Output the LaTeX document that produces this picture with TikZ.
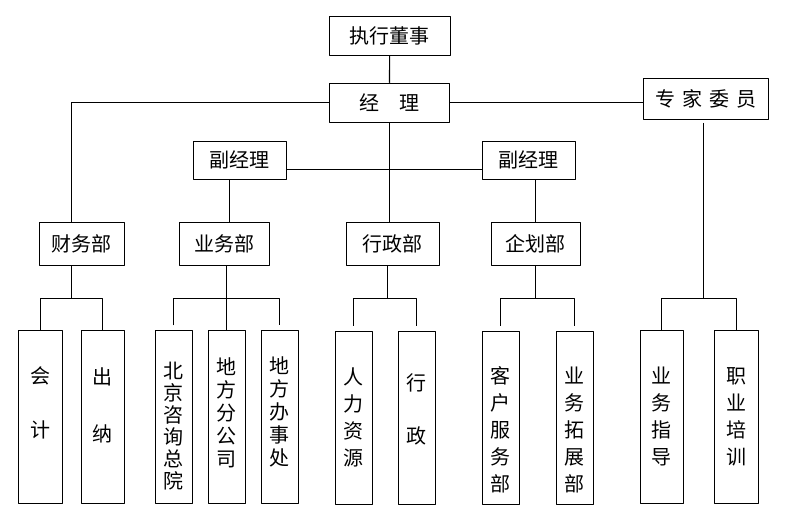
\documentclass[tikz,border=0pt]{standalone}
\usepackage{fontspec}
\setmainfont{Noto Sans CJK SC}
\begin{document}
\begin{tikzpicture}[x=1pt,y=-1pt,line width=1.1pt,line join=round,
	font=\fontsize{20}{27}\selectfont,
	box/.style={draw,inner sep=0pt,minimum height=39pt},
	dept/.style={draw,inner sep=0pt,minimum height=43pt},
	col/.style={draw,inner sep=0pt,minimum height=173pt},
	vt/.style={align=center,inner sep=0pt}]
	\useasboundingbox (0,0) rectangle (801,527);
	\def \bus{298.3}
	%Cấp trên
	\node[box,minimum width=121pt] (dsz) at (389.8,35.7) {执行董事};
	\node[box,minimum width=120pt] (jl) at (389.3,102.8) {经\quad 理};
	\node[box,minimum width=125pt,minimum height=41pt] (zj) at (705.8,98.7)
		{专\hspace{7pt}家\hspace{7pt}委\hspace{7pt}员};
	\node[box,minimum width=93pt,minimum height=38pt] (fjla) at (239.8,160.3) {副经理};
	\node[box,minimum width=93pt,minimum height=38pt] (fjlb) at (528.8,160.3) {副经理};
	%Các phòng
	\node[dept,minimum width=85pt] (cwb) at (81.8,243.8) {财务部};
	\node[dept,minimum width=90pt] (ywb) at (224.3,243.8) {业务部};
	\node[dept,minimum width=93pt] (xzb) at (392.8,243.8) {行政部};
	\node[dept,minimum width=89pt] (qhb) at (535.8,243.8) {企划部};
	%Các bộ phận
	\node[col,minimum width=44pt,label={[vt,yshift=14pt]center:会\\[27pt]计}] (kj) at (40.3,417) {};
	\node[col,minimum width=43pt,label={[vt,yshift=12pt]center:出\\[30pt]纳}] (cn) at (102.8,417) {};
	\node[col,minimum width=37pt,label={[vt,yshift=-8.5pt,font=\fontsize{20}{22}\selectfont]center:北\\京\\咨\\询\\总\\院}] (bj) at (173.8,417.3) {};
	\node[col,minimum width=37pt,label={[vt,yshift=4pt,font=\fontsize{20}{23}\selectfont]center:地\\方\\分\\公\\司}] (dfg) at (226.8,417.3) {};
	\node[col,minimum width=37pt,label={[vt,yshift=5pt,font=\fontsize{20}{23}\selectfont]center:地\\方\\办\\事\\处}] (bsc) at (279.8,417.3) {};
	\node[col,minimum width=37pt,label={[vt]center:人\\力\\资\\源}] (rl) at (353.8,417.8) {};
	\node[col,minimum width=37pt,label={[vt,yshift=8pt]center:行\\[26pt]政}] (xz) at (416.8,417.8) {};
	\node[col,minimum width=37pt,label={[vt,yshift=-12pt]center:客\\户\\服\\务\\部}] (kh) at (500.8,417.8) {};
	\node[col,minimum width=37pt,label={[vt,yshift=-12.5pt]center:业\\务\\拓\\展\\部}] (tz) at (574.8,417.8) {};
	\node[col,minimum width=43pt,label={[vt]center:业\\务\\指\\导}] (zd) at (661.8,416.8) {};
	\node[col,minimum width=44pt,label={[vt]center:职\\业\\培\\训}] (px) at (736.3,416.8) {};
	%Nối
	\draw (dsz) -- (jl);
	\draw (jl.west) -| ([xshift=-10pt]cwb.north);
	\draw (jl.east) -- (jl.east -| zj.west);
	\draw (jl.south) -- (jl.south |- xzb.north);
	\draw ([yshift=-9pt]fjla.east) -- ([yshift=-9pt]fjla.east -| fjlb.west);
	\draw ([xshift=-10pt]fjla.south) -- ([xshift=-10pt]fjla.south |- ywb.north);
	\draw (qhb.north |- fjlb.south) -- (qhb.north);
	%Nhánh dưới
	\draw ([xshift=-10pt]cwb.south) -- ([xshift=-10pt]cwb.south |- 0,\bus);
	\draw (kj.north) -- (kj.north |- 0,\bus) -- (cn.north |- 0,\bus) -- (cn.north);
	\draw (ywb.south -| dfg.north) -- (dfg.north);
	\draw ([yshift=5pt]bj.north) -- (bj.north |- 0,\bus) -- (bsc.north |- 0,\bus) -- ([yshift=5pt]bsc.north);
	\draw ([xshift=-5pt]xzb.south) -- ([xshift=-5pt]xzb.south |- 0,\bus);
	\draw ([yshift=5pt]rl.north) -- (rl.north |- 0,\bus) -- (xz.north |- 0,\bus) -- ([yshift=5pt]xz.north);
	\draw (qhb.south) -- (qhb.south |- 0,\bus);
	\draw ([yshift=5pt]kh.north) -- (kh.north |- 0,\bus) -- (tz.north |- 0,\bus) -- ([yshift=5pt]tz.north);
	\draw ([xshift=-2.5pt,yshift=-3pt]zj.south) -- ([xshift=-2.5pt]zj.south |- 0,\bus);
	\draw (zd.north) -- (zd.north |- 0,\bus) -- (px.north |- 0,\bus) -- (px.north);
\end{tikzpicture}
\end{document}
